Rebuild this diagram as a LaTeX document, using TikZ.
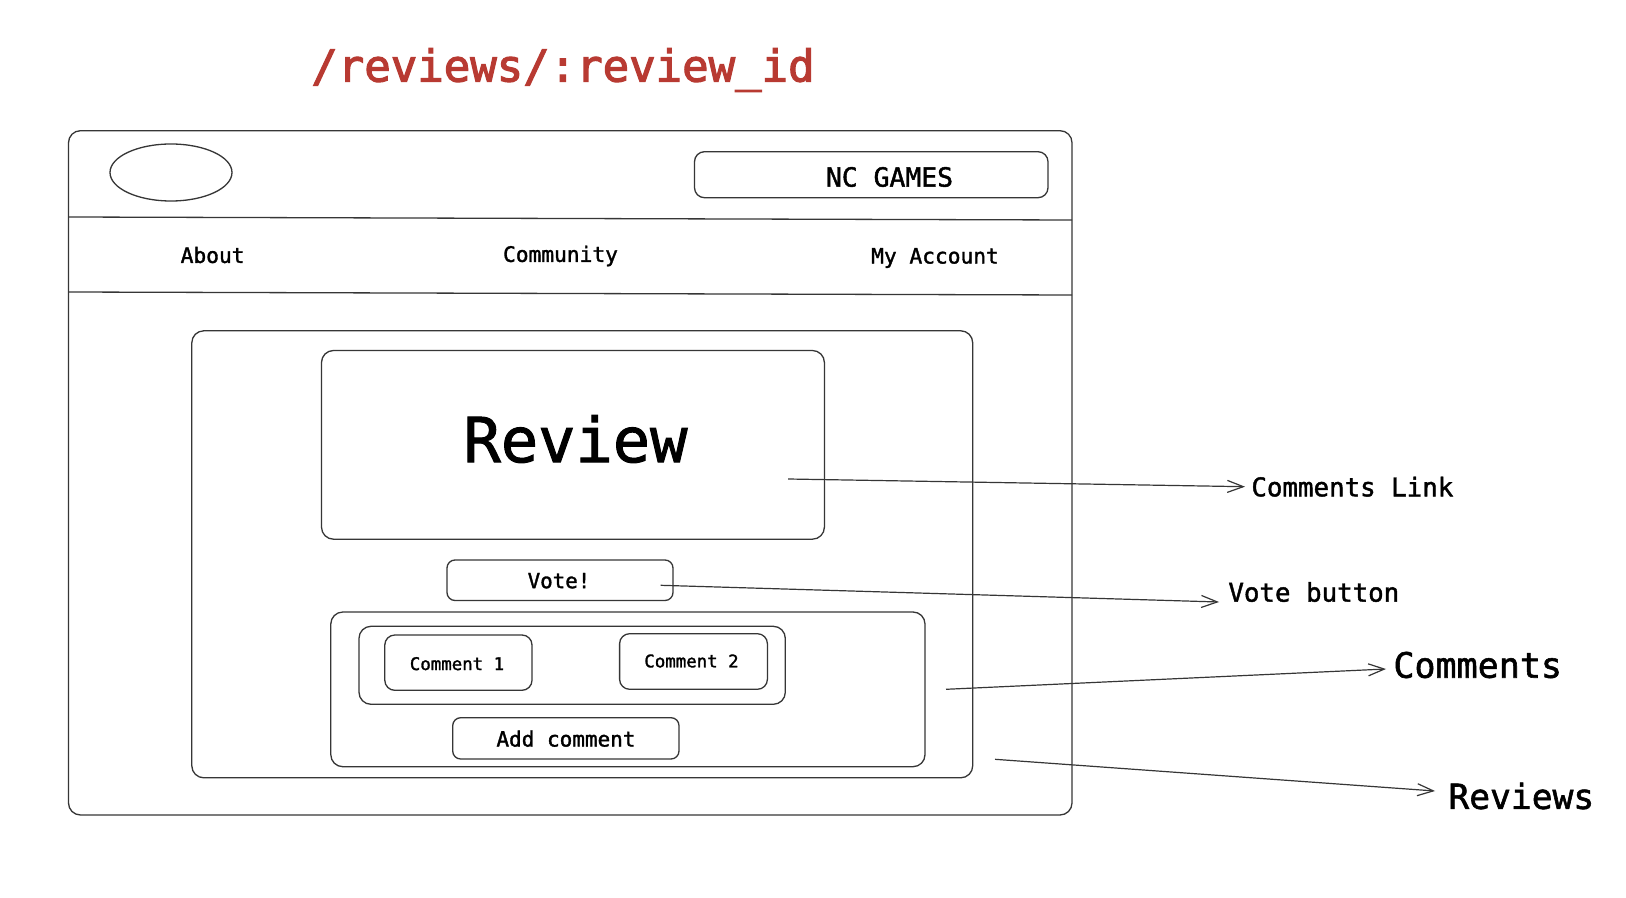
\documentclass[tikz,border=0pt]{standalone}
\usepackage{fontspec}
\setmonofont{DejaVu Sans Mono}[FakeBold=1.6]
\newfontfamily\titlemono{DejaVu Sans Mono}[FakeBold=2.6]
\usetikzlibrary{arrows.meta,shapes.geometric}
\definecolor{ink}{HTML}{363636}
\definecolor{titlered}{HTML}{B83A32}
\begin{document}
\begin{tikzpicture}[x=0.5pt,y=-0.5pt,
  box/.style={draw=ink, line width=0.65pt, rounded corners=5pt, inner sep=0pt, anchor=center},
  sep/.style={draw=ink, line width=0.65pt},
  txt/.style={inner sep=0pt, text=black},
  conn/.style={draw=ink, line width=0.6pt, -{Straight Barb[length=8pt,width=6pt]}},
]
\useasboundingbox (0,0) rectangle (1626,898);
\fill[white] (0,0) rectangle (1626,898);

% title
\node[txt, text=titlered, font=\titlemono\fontsize{22}{26}\selectfont] (title) at (563,70) {/reviews/:review\_id};

% browser frame
\node[box, rounded corners=6pt, minimum width=501.75pt, minimum height=342.15pt] (frame) at (570.25,472.85) {};
\draw[sep] (68.5,217) -- (1072,220);
\draw[sep] (68.5,292) -- (1072,295);

% header
\node[draw=ink, line width=0.65pt, ellipse, inner sep=0pt, minimum width=61pt, minimum height=28.5pt] (logo) at (171,172.5) {};
\node[box, minimum width=176.75pt, minimum height=23pt] (ncbox) at (871.25,174.7) {};
\node[txt, font=\ttfamily\fontsize{13.2}{16}\selectfont] (nc) at (889.5,177) {NC GAMES};

% nav
\node[txt, font=\ttfamily\fontsize{10.6}{13}\selectfont] (about) at (212.6,255) {About};
\node[txt, font=\ttfamily\fontsize{10.6}{13}\selectfont] (community) at (560.5,256) {Community};
\node[txt, font=\ttfamily\fontsize{10.6}{13}\selectfont] (account) at (935,258) {My Account};

% content
\node[box, rounded corners=6pt, minimum width=390.45pt, minimum height=223.5pt] (reviews) at (582.25,554.3) {};
\node[box, rounded corners=6pt, minimum width=251.45pt, minimum height=94.35pt] (reviewbox) at (572.95,444.85) {};
\node[txt, font=\ttfamily\fontsize{31}{36}\selectfont] (reviewtxt) at (575.5,439) {Review};

\node[box, rounded corners=4pt, minimum width=113pt, minimum height=20.25pt] (vote) at (560,580.25) {};
\node[txt, font=\ttfamily\fontsize{10.4}{13}\selectfont] (votetxt) at (559,580.7) {Vote!};

\node[box, rounded corners=6pt, minimum width=297.1pt, minimum height=77.35pt] (comments) at (627.9,689.35) {};
\node[box, rounded corners=6pt, minimum width=213.15pt, minimum height=39pt] (row) at (572.15,665.3) {};
\node[box, rounded corners=5pt, minimum width=73.6pt, minimum height=27.65pt] (c1) at (458.4,662.65) {};
\node[txt, font=\ttfamily\fontsize{8.7}{11}\selectfont] (c1txt) at (457,663.7) {Comment 1};
\node[box, rounded corners=5pt, minimum width=73.9pt, minimum height=27.8pt] (c2) at (693.5,661.5) {};
\node[txt, font=\ttfamily\fontsize{8.7}{11}\selectfont] (c2txt) at (691.5,661) {Comment 2};
\node[box, rounded corners=4pt, minimum width=113.15pt, minimum height=20.65pt] (add) at (565.85,738.35) {};
\node[txt, font=\ttfamily\fontsize{10.5}{13}\selectfont] (addtxt) at (566,738.7) {Add comment};

% annotations
\node[txt, anchor=west, font=\ttfamily\fontsize{12.9}{16}\selectfont] (lCL) at (1251,486.7) {Comments Link};
\node[txt, anchor=west, font=\ttfamily\fontsize{12.9}{16}\selectfont] (lVB) at (1228,592) {Vote button};
\node[txt, anchor=west, font=\ttfamily\fontsize{17.5}{21}\selectfont] (lC) at (1393,665) {Comments};
\node[txt, anchor=west, font=\ttfamily\fontsize{17.3}{21}\selectfont] (lR) at (1448,796) {Reviews};

\coordinate (sCL) at (788,479);
\coordinate (sVB) at (660.7,585.3);
\coordinate (sC) at (946,689.3);
\coordinate (sR) at (995,759.3);

\draw[conn] (sCL) -- ([xshift=-3pt]lCL.west);
\draw[conn] (sVB) -- ([xshift=-4.5pt,yshift=-5pt]lVB.west);
\draw[conn] (sC) -- ([xshift=-3.5pt,yshift=-2pt]lC.west);
\draw[conn] (sR) -- ([xshift=-6.5pt,yshift=2.5pt]lR.west);
\end{tikzpicture}
\end{document}
